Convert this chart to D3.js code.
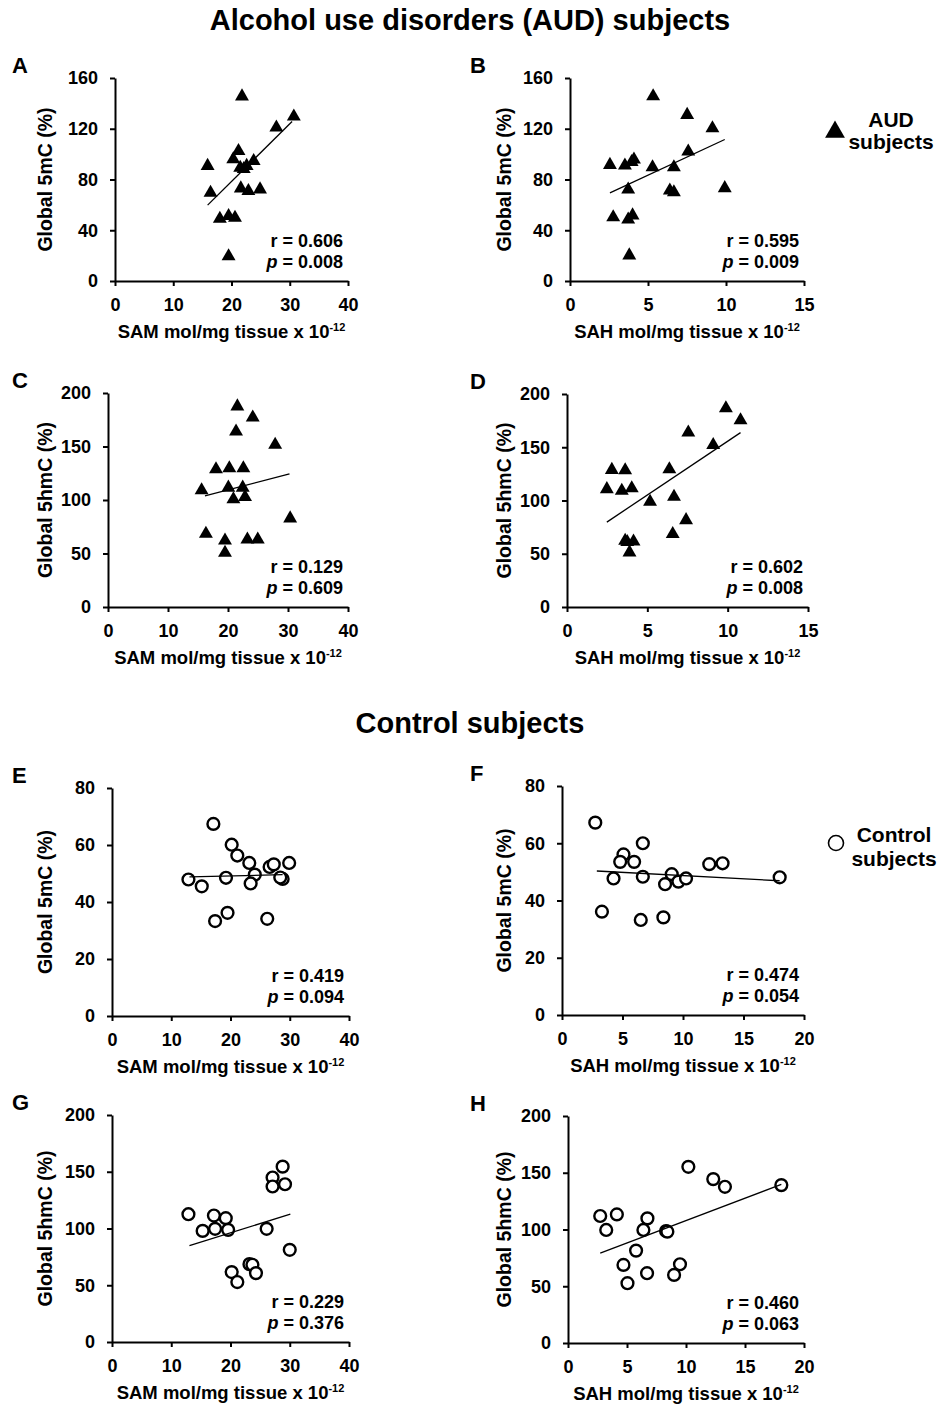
<!DOCTYPE html>
<html><head><meta charset="utf-8">
<script src="https://cdn.jsdelivr.net/npm/d3@7"></script>
<style>
body{margin:0;background:#fff}
text{font-family:"Liberation Sans",Arial,sans-serif;font-weight:bold;fill:#000}
</style>
</head><body>
<svg id="chart" width="940" height="1407"></svg>
<script>
// ---------- data ----------
// Panel A: SAM vs Global 5mC (AUD)
const aX = [21.8,30.7,27.7,15.9,16.4,21.2,20.3,21.5,22.6,23.8,22.1,21.6,22.9,24.9,18.0,19.5,20.6,19.5];
const aY = [146.3,130.5,121.8,91.5,70.4,103.3,96.7,90,91.5,95.4,89,73.8,71.7,73,49.8,52,50.6,20.3];
const aFit = [15.9,59.8,30.4,125.7];
const aStats = ["0.606","0.008"];
// Panel B: SAH vs Global 5mC (AUD)
const bX = [5.33,7.51,9.13,2.56,3.52,4.10,3.95,5.29,6.66,7.58,3.73,6.40,6.66,9.92,2.77,3.73,4.01,3.80];
const bY = [146.4,131.7,121.2,92.3,91.8,96.5,94.5,90.5,90.5,102.8,72.9,72.1,70.8,74,51.1,49.3,52.5,21];
const bFit = [2.56,69.5,9.92,111.5];
const bStats = ["0.595","0.009"];
// Panel C: SAM vs Global 5hmC (AUD)
const cX = [21.56,24.12,21.34,27.86,18.0,20.22,22.56,15.6,20.06,22.45,20.9,22.84,30.36,16.32,19.5,23.23,24.96,19.5];
const cY = [188.4,178.1,165,152.5,129.7,130.6,130.6,110,112.5,112.5,101.6,103.75,83.75,69.4,63.1,64,64,51.6];
const cFit = [16.16,103.75,30.25,124.4];
const cStats = ["0.129","0.609"];
// Panel D: SAH vs Global 5hmC (AUD)
const dX = [2.79,2.48,3.62,3.41,4.03,5.17,6.66,6.37,7.55,9.10,9.89,10.8,7.41,6.58,3.62,4.14,3.89,3.75];
const dY = [129.7,111.6,129.4,110,112.5,99.7,104.4,130.3,164.7,153.1,187.5,176.3,82.5,69.4,63.1,62.5,52.2,62];
const dFit = [2.48,79.7,10.8,163.75];
const dStats = ["0.602","0.008"];
// Panel E: SAM vs Global 5mC (Control)
const eX = [17.11,20.2,21.15,23.17,26.6,27.3,29.9,12.9,15.15,19.24,24.1,23.4,28.8,28.4,19.5,17.4,26.2];
const eY = [67.4,60.1,56.3,53.7,52.3,53.2,53.7,47.9,45.5,48.5,49.6,46.5,48.1,48.6,36.2,33.3,34.1];
const eFit = [13.07,48.8,28.8,49.6];
const eStats = ["0.419","0.094"];
// Panel F: SAH vs Global 5mC (Control)
const fX = [2.75,6.68,5.08,4.81,5.96,4.26,6.68,8.52,9.07,9.62,10.25,12.17,13.27,17.99,3.30,6.51,8.38];
const fY = [67.2,60,56.1,53.5,53.5,47.7,48.3,45.7,49.2,46.6,47.7,52.7,53,48.1,36.1,33.2,34.1];
const fFit = [2.88,50.3,17.99,46.9];
const fStats = ["0.474","0.054"];
// Panel G: SAM vs Global 5hmC (Control)
const gX = [12.9,15.3,17.2,17.4,19.2,19.6,26.1,27.1,28.8,27.1,29.2,30.0,20.2,21.15,23.2,23.7,24.3];
const gY = [112.6,97.9,111.4,99.7,109.1,98.8,99.7,144.9,154.5,137,139,81.2,61.6,52.8,68.6,68,60.7];
const gFit = [13.07,85,30.1,112.6];
const gStats = ["0.229","0.376"];
// Panel H: SAH vs Global 5hmC (Control)
const hX = [2.73,3.24,4.14,6.73,6.39,8.31,8.42,10.2,12.31,13.3,18.08,5.77,4.7,5.04,6.7,8.99,9.49];
const hY = [111.9,99.6,113.3,109.8,99.6,98.7,98.1,155.2,144.4,137.6,139.1,81.4,68.8,52.7,61.5,60,69.4];
const hFit = [2.73,79.1,18.08,139.7];
const hStats = ["0.460","0.063"];

// tick labels / axis values
const samTicks = [0,10,20,30,40];
const sahTicksAUD = [0,5,10,15];
const sahTicksCtl = [0,5,10,15,20];
const mcTicksAUD = [0,40,80,120,160];
const hmcTicks = [0,50,100,150,200];
const mcTicksCtl = [0,20,40,60,80];

const titleAUD = "Alcohol use disorders (AUD) subjects";
const titleCtl = "Control subjects";
const yTitle5mC = "Global 5mC (%)";
const yTitle5hmC = "Global 5hmC (%)";
const xTitleSAM = "SAM mol/mg tissue x 10";
const xTitleSAH = "SAH mol/mg tissue x 10";
const expo = "-12";

// ---------- layout ----------
const panels = [
  {id:"A", xs:aX, ys:aY, fit:aFit, st:aStats, xt:samTicks, yt:mcTicksAUD, ytitle:yTitle5mC, xtitle:xTitleSAM, m:"tri", col:0, x0:115, x1:348, yT:78, yB:281},
  {id:"B", xs:bX, ys:bY, fit:bFit, st:bStats, xt:sahTicksAUD, yt:mcTicksAUD, ytitle:yTitle5mC, xtitle:xTitleSAH, m:"tri", col:1, x0:570, x1:804, yT:78, yB:281},
  {id:"C", xs:cX, ys:cY, fit:cFit, st:cStats, xt:samTicks, yt:hmcTicks, ytitle:yTitle5hmC, xtitle:xTitleSAM, m:"tri", col:0, x0:108, x1:348, yT:393, yB:607},
  {id:"D", xs:dX, ys:dY, fit:dFit, st:dStats, xt:sahTicksAUD, yt:hmcTicks, ytitle:yTitle5hmC, xtitle:xTitleSAH, m:"tri", col:1, x0:567, x1:808, yT:394, yB:607},
  {id:"E", xs:eX, ys:eY, fit:eFit, st:eStats, xt:samTicks, yt:mcTicksCtl, ytitle:yTitle5mC, xtitle:xTitleSAM, m:"circ", col:0, x0:112, x1:349, yT:788, yB:1016},
  {id:"F", xs:fX, ys:fY, fit:fFit, st:fStats, xt:sahTicksCtl, yt:mcTicksCtl, ytitle:yTitle5mC, xtitle:xTitleSAH, m:"circ", col:1, x0:562, x1:804, yT:786, yB:1015},
  {id:"G", xs:gX, ys:gY, fit:gFit, st:gStats, xt:samTicks, yt:hmcTicks, ytitle:yTitle5hmC, xtitle:xTitleSAM, m:"circ", col:0, x0:112, x1:349, yT:1115, yB:1342},
  {id:"H", xs:hX, ys:hY, fit:hFit, st:hStats, xt:sahTicksCtl, yt:hmcTicks, ytitle:yTitle5hmC, xtitle:xTitleSAH, m:"circ", col:1, x0:568, x1:804, yT:1116, yB:1343}
];

const svg = d3.select("#chart");
svg.append("rect").attr("width",940).attr("height",1407).attr("fill","#fff");

svg.append("text").attr("x",470).attr("y",30).attr("text-anchor","middle").style("font-size","29px").text(titleAUD);
svg.append("text").attr("x",470).attr("y",733).attr("text-anchor","middle").style("font-size","29px").text(titleCtl);

const tri = d3.symbol().type(d3.symbolTriangle).size(84);

panels.forEach(p => {
  const x = d3.scaleLinear().domain([p.xt[0], p.xt[p.xt.length-1]]).range([p.x0, p.x1]);
  const y = d3.scaleLinear().domain([p.yt[0], p.yt[p.yt.length-1]]).range([p.yB, p.yT]);
  const g = svg.append("g");

  const ax = g.append("g").attr("transform",`translate(0,${p.yB})`)
    .call(d3.axisBottom(x).tickValues(p.xt).tickSize(5).tickSizeOuter(0).tickPadding(12).tickFormat(d3.format("d")));
  const ay = g.append("g").attr("transform",`translate(${p.x0},0)`)
    .call(d3.axisLeft(y).tickValues(p.yt).tickSize(5).tickSizeOuter(0).tickPadding(12).tickFormat(d3.format("d")));
  [ax, ay].forEach(a => {
    a.selectAll("path,line").attr("stroke","#000").attr("stroke-width",2);
    a.selectAll("text").style("font-size","18px").attr("fill","#000").style("font-family",'"Liberation Sans",Arial,sans-serif');
  });

  // points
  const pts = p.xs.map((v,i)=>[v,p.ys[i]]);
  if (p.m === "tri") {
    g.selectAll("path.pt").data(pts).enter().append("path").attr("class","pt")
      .attr("d", tri).attr("transform", d=>`translate(${x(d[0])},${y(d[1])+1})`).attr("fill","#000");
  } else {
    g.selectAll("circle.pt").data(pts).enter().append("circle").attr("class","pt")
      .attr("cx", d=>x(d[0])).attr("cy", d=>y(d[1])).attr("r",5.9)
      .attr("fill","#fff").attr("stroke","#000").attr("stroke-width",2.4);
  }
  // trend line
  g.append("line").attr("x1",x(p.fit[0])).attr("y1",y(p.fit[1])).attr("x2",x(p.fit[2])).attr("y2",y(p.fit[3]))
    .attr("stroke","#000").attr("stroke-width",1.3);

  // stats
  g.append("text").attr("x",p.x1-5).attr("y",p.yB-34).attr("text-anchor","end").style("font-size","18px").text("r = "+p.st[0]);
  const pt = g.append("text").attr("x",p.x1-5).attr("y",p.yB-13).attr("text-anchor","end").style("font-size","18px");
  pt.append("tspan").style("font-style","italic").text("p");
  pt.append("tspan").text(" = "+p.st[1]);

  // panel letter
  g.append("text").attr("x", p.col===0?12:470).attr("y", p.yT-5).style("font-size","22px").text(p.id);

  // y title
  const ytx = p.col===0?52:511;
  g.append("text").attr("transform",`translate(${ytx},${(p.yT+p.yB)/2}) rotate(-90)`).attr("text-anchor","middle")
    .style("font-size","19.5px").text(p.ytitle);

  // x title
  const xtt = g.append("text").attr("x",(p.x0+p.x1)/2).attr("y",p.yB+57).attr("text-anchor","middle").style("font-size","18.5px");
  xtt.append("tspan").text(p.xtitle);
  xtt.append("tspan").attr("dy",-7).style("font-size","11px").text(expo);
});

// legends
svg.append("path").attr("d", d3.symbol().type(d3.symbolTriangle).size(170)).attr("transform","translate(835,132)").attr("fill","#000");
svg.append("text").attr("x",891).attr("y",127).attr("text-anchor","middle").style("font-size","21px").text("AUD");
svg.append("text").attr("x",891).attr("y",149).attr("text-anchor","middle").style("font-size","21px").text("subjects");

svg.append("circle").attr("cx",836).attr("cy",843).attr("r",7.5).attr("fill","#fff").attr("stroke","#000").attr("stroke-width",1.6);
svg.append("text").attr("x",894).attr("y",842).attr("text-anchor","middle").style("font-size","21px").text("Control");
svg.append("text").attr("x",894).attr("y",866).attr("text-anchor","middle").style("font-size","21px").text("subjects");
</script>
</body></html>
